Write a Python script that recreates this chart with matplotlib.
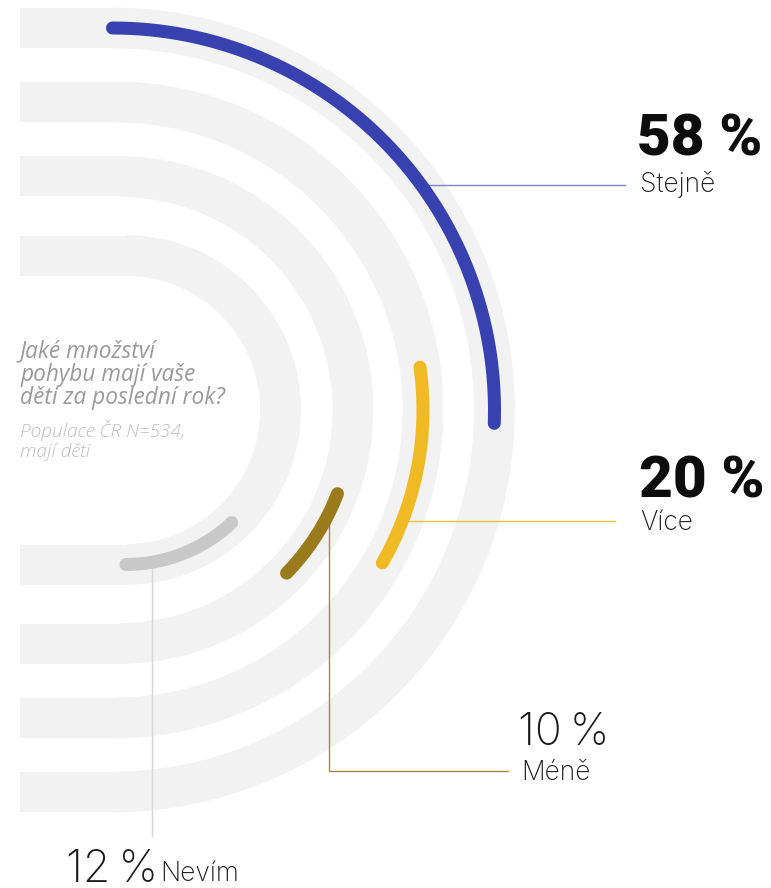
import numpy as np
import matplotlib
matplotlib.use("Agg")
import matplotlib.pyplot as plt
from matplotlib.patches import Wedge, Rectangle

# ---------------- data ----------------
categories = ['Stejně', 'Více', 'Méně', 'Nevím']
values = [58, 20, 10, 12]
value_labels = ['58 %', '20 %', '10 %', '12 %']
question_lines = ['Jaké množství', 'pohybu mají vaše', 'děti za poslední rok?']
note_lines = ['Populace ČR N=534,', 'mají děti']

# ---------------- style / layout ----------------
colors = ['#3741AF', '#EFBA24', '#9B7A1B', '#C8C8C8']
leader_colors = ['#7F84CC', '#F0C23C', '#A8874A', '#D6D6D6']
band_color = '#F2F2F2'
ring_r = [382, 308, 233.5, 154.5]
ring_cx = [112.5, 115, 119.5, 126]
cy = 410
band_w = 40
band_left = 20
arc_start = [90, 8.0, -21.0, -46.8]      # degrees, 90 = top, clockwise sweep
px_per_pct = 10.8
arc_lw_px = 13

W, H, DPI = 771, 888, 100
plt.rcParams['font.family'] = ['Roboto', 'DejaVu Sans']

fig = plt.figure(figsize=(W / DPI, H / DPI), dpi=DPI)
ax = fig.add_axes([0, 0, 1, 1])
ax.set_xlim(0, W)
ax.set_ylim(H, 0)
ax.axis('off')

px2pt = 72 / DPI

# background bands
for r, cx in zip(ring_r, ring_cx):
    ax.add_patch(Wedge((cx, cy), r + band_w / 2, -90, 90, width=band_w,
                       facecolor=band_color, edgecolor=band_color, lw=0.5, zorder=1))
    for yc in (cy - r, cy + r):
        ax.add_patch(Rectangle((band_left, yc - band_w / 2), cx - band_left + 0.5, band_w,
                               facecolor=band_color, edgecolor='none', zorder=1))

def pt(cx, r, a_deg):
    a = np.radians(a_deg)
    return cx + r * np.cos(a), cy - r * np.sin(a)

# value arcs
for v, r, cx, a0, c in zip(values, ring_r, ring_cx, arc_start, colors):
    sweep = np.degrees((v * px_per_pct - arc_lw_px) / r)
    th = np.linspace(a0, a0 - sweep, 200)
    x, y = pt(cx, r, th)
    ax.plot(x, y, color=c, lw=arc_lw_px * px2pt, solid_capstyle='round', zorder=3)

# leader lines
y0 = 185
x0 = ring_cx[0] + np.sqrt(ring_r[0] ** 2 - (cy - y0) ** 2)
ax.plot([x0, 625], [y0, y0], color=leader_colors[0], lw=1.0, zorder=2)
y1 = 521
x1 = ring_cx[1] + np.sqrt(ring_r[1] ** 2 - (y1 - cy) ** 2)
ax.plot([x1, 615], [y1, y1], color=leader_colors[1], lw=1.0, zorder=2)
x2 = 329
y2 = cy + np.sqrt(ring_r[2] ** 2 - (x2 - ring_cx[2]) ** 2)
ax.plot([x2, x2, 508], [y2, 771, 771], color=leader_colors[2], lw=1.0, zorder=2)
x3 = 152
y3 = cy + np.sqrt(ring_r[3] ** 2 - (x3 - ring_cx[3]) ** 2)
ax.plot([x3, x3], [y3, 836], color=leader_colors[3], lw=1.0, zorder=2)

# value texts
light_num = dict(fontsize=32, fontweight='light', color='#1A1A1A', va='baseline', ha='left',
                 family=['Inter', 'DejaVu Sans'])
lbl_kw = dict(fontsize=19, fontweight='light', color='#1A1A1A', va='baseline', ha='left',
              family=['Inter', 'DejaVu Sans'])
bold_kw = dict(fontsize=42, fontweight='black', color='#0D0D0D', va='baseline', ha='left')

def thin(s):
    return s.replace(' ', '\u2009')

ax.text(637, 155, value_labels[0], **bold_kw)
ax.text(640, 192, categories[0], **lbl_kw)
ax.text(639, 497, value_labels[1], **bold_kw)
ax.text(640, 530, categories[1], **lbl_kw)
ax.text(518, 745, thin(value_labels[2]), **light_num)
ax.text(521, 780, categories[2], **lbl_kw)
ax.text(66, 882, thin(value_labels[3]), **light_num)
ax.text(160, 881, categories[3], **lbl_kw)

# question
for i, line in enumerate(question_lines):
    ax.text(20, 357 + i * 23.5, line, fontsize=16.3, style='italic', color='#9A9A9A',
            va='baseline', ha='left', family=['Open Sans', 'DejaVu Sans'])
for i, line in enumerate(note_lines):
    ax.text(20, 437 + i * 20, line, fontsize=13.8, style='italic', fontweight='light',
            color='#BDBDBD', va='baseline', ha='left', family=['Open Sans', 'DejaVu Sans'])

fig.savefig('out.png', dpi=DPI)
